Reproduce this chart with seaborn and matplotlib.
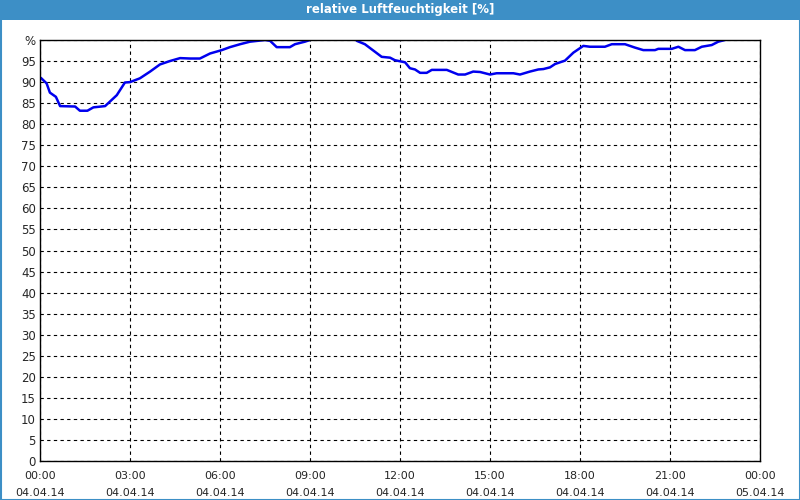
import matplotlib
matplotlib.use("Agg")
import matplotlib.pyplot as plt
import matplotlib.patches as mpatches
import seaborn as sns
import pandas as pd
import numpy as np

title = "relative Luftfeuchtigkeit [%]"

hours = [0.03, 0.22, 0.33, 0.53, 0.67, 1.17, 1.33, 1.58, 1.78, 2.17, 2.56, 2.83, 3.0,
         3.33, 3.67, 4.0, 4.33, 4.67, 5.0, 5.33, 5.67, 6.06, 6.33, 6.67, 7.0, 7.5,
         7.67, 7.89, 8.33, 8.5, 8.83, 9.0, 9.2, 10.3, 10.56, 10.83, 11.11, 11.39,
         11.67, 11.83, 12.17, 12.33, 12.5, 12.67, 12.89, 13.06, 13.56, 13.94, 14.17,
         14.44, 14.67, 15.0, 15.22, 15.78, 16.0, 16.33, 16.61, 16.78, 17.0, 17.17,
         17.5, 17.78, 18.11, 18.33, 18.83, 19.06, 19.5, 19.83, 20.11, 20.5, 20.61,
         21.06, 21.28, 21.5, 21.83, 22.06, 22.39, 22.61, 22.83, 23.0, 24.0]
humidity = [91.0, 89.7, 87.5, 86.5, 84.3, 84.2, 83.2, 83.2, 84.0, 84.3, 86.9, 89.9, 90.0,
            90.9, 92.5, 94.2, 95.0, 95.7, 95.6, 95.6, 96.8, 97.6, 98.3, 99.0, 99.6, 100.0,
            99.8, 98.3, 98.3, 99.0, 99.6, 100.0, 103.0, 103.0, 99.8, 99.0, 97.5, 96.0,
            95.8, 95.2, 94.7, 93.3, 93.0, 92.2, 92.2, 92.9, 92.9, 91.8, 91.8,
            92.5, 92.4, 91.8, 92.1, 92.1, 91.8, 92.5, 93.0, 93.1, 93.5, 94.3,
            95.1, 97.0, 98.6, 98.4, 98.4, 99.0, 99.0, 98.2, 97.6, 97.6, 97.9,
            97.9, 98.4, 97.6, 97.6, 98.4, 98.8, 99.6, 100.0, 103.0, 103.0]

x_ticks = [0, 3, 6, 9, 12, 15, 18, 21, 24]
x_labels = ["00:00\n04.04.14", "03:00\n04.04.14", "06:00\n04.04.14", "09:00\n04.04.14",
            "12:00\n04.04.14", "15:00\n04.04.14", "18:00\n04.04.14", "21:00\n04.04.14",
            "00:00\n05.04.14"]
y_ticks = list(range(0, 101, 5))
y_labels = [str(v) for v in range(0, 100, 5)] + ["%"]

df = pd.DataFrame({"h": hours, "rh": humidity})

sns.set_style("white")
plt.rcParams["font.family"] = ["DejaVu Sans"]

fig = plt.figure(figsize=(8, 5), dpi=100)
fig.patch.set_facecolor("white")
ax = fig.add_axes([40 / 800, 1 - 461 / 500, 720 / 800, 421 / 500])

sns.lineplot(data=df, x="h", y="rh", ax=ax, color="#0000ee", linewidth=1.8)

ax.set_xlim(0, 24)
ax.set_ylim(0, 100)
ax.set_xticks(x_ticks)
ax.set_xticklabels(x_labels, fontsize=8, linespacing=1.9)
ax.set_xticks(range(0, 25), minor=True)
ax.set_yticks(y_ticks)
ax.set_yticklabels(y_labels, fontsize=8.5)
ax.set_xlabel("")
ax.set_ylabel("")
ax.grid(True, color="black", linestyle=(0, (3, 3)), linewidth=0.8)
ax.tick_params(axis="x", which="both", direction="out", length=4, width=0.8, pad=3, color="black")
ax.tick_params(axis="y", length=0, pad=3)
for s in ax.spines.values():
    s.set_color("black")
    s.set_linewidth(1.0)
ax.set_facecolor("white")

# title bar and border
bar = mpatches.Rectangle((0, 1 - 20 / 500), 1, 20 / 500, transform=fig.transFigure,
                         facecolor="#3d8fc6", edgecolor="none", zorder=0)
fig.patches.append(bar)
border = mpatches.Rectangle((0.5 / 800, 0.5 / 500), 1 - 1 / 800, 1 - 1 / 500,
                            transform=fig.transFigure, facecolor="none",
                            edgecolor="#3d8fc6", linewidth=1.5, zorder=0)
fig.patches.append(border)
fig.text(0.5, 1 - 10 / 500, title, color="white", fontsize=8.5, fontweight="bold",
         ha="center", va="center")

fig.savefig("out.png", dpi=100)
